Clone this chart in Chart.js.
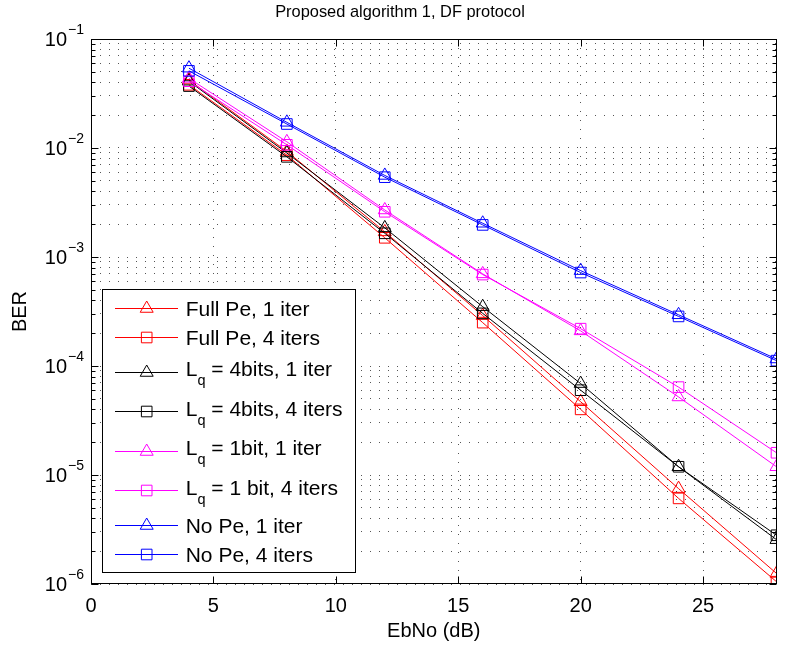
<!DOCTYPE html>
<html><head><meta charset="utf-8">
<script src="https://cdn.jsdelivr.net/npm/chart.js@4/dist/chart.umd.min.js"></script>
<style>html,body{margin:0;padding:0;background:#fff;}canvas{display:block;}</style>
</head><body>
<canvas id="c" width="785" height="646"></canvas>
<script>
const titleText = 'Proposed algorithm 1, DF protocol';
const xLabel = 'EbNo (dB)';
const yLabel = 'BER';
const ebno = [4, 8, 12, 16, 20, 24, 28];
const fullPe1 = [0.042, 0.0093, 0.0017, 2.9e-4, 4.7e-5, 7.5e-6, 1.25e-6];
const fullPe4 = [0.038, 0.0086, 0.0015, 2.5e-4, 4.0e-5, 6.1e-6, 1.05e-6];
const lq4bits1 = [0.041, 0.0090, 0.00185, 3.5e-4, 6.9e-5, 1.19e-5, 2.55e-6];
const lq4bits4 = [0.037, 0.0083, 0.00165, 3.04e-4, 6.0e-5, 1.19e-5, 2.8e-6];
const lq1bit1 = [0.0435, 0.0114, 0.0027, 7.0e-4, 2.1e-4, 5.2e-5, 1.19e-5];
const lq1bit4 = [0.041, 0.0107, 0.0026, 6.9e-4, 2.2e-4, 6.4e-5, 1.6e-5];
const noPe1 = [0.054, 0.0172, 0.0056, 2.04e-3, 7.5e-4, 2.95e-4, 1.16e-4];
const noPe4 = [0.051, 0.0166, 0.0054, 1.97e-3, 7.2e-4, 2.85e-4, 1.12e-4];
const seriesLabels = ['Full Pe, 1 iter', 'Full Pe, 4 iters', 'L_q = 4bits, 1 iter', 'L_q = 4bits, 4 iters',
  'L_q = 1bit, 1 iter', 'L_q = 1 bit, 4 iters', 'No Pe, 1 iter', 'No Pe, 4 iters'];
const seriesValues = [fullPe1, fullPe4, lq4bits1, lq4bits4, lq1bit1, lq1bit4, noPe1, noPe4];
const seriesColors = ['#ff0000', '#ff0000', '#000000', '#000000', '#ff00ff', '#ff00ff', '#0000ff', '#0000ff'];
const seriesMarkers = ['triangle', 'rect', 'triangle', 'rect', 'triangle', 'rect', 'triangle', 'rect'];
const xTicks = [0, 5, 10, 15, 20, 25];
const yDecades = [-6, -5, -4, -3, -2, -1];

const FONT = "'Liberation Sans', Arial, Helvetica, sans-serif";

const datasets = seriesLabels.map((lab, i) => ({
  label: lab,
  data: ebno.map((x, j) => ({x: x, y: seriesValues[i][j]})),
  borderColor: seriesColors[i],
  backgroundColor: 'rgba(0,0,0,0)',
  pointBackgroundColor: 'rgba(0,0,0,0)',
  pointBorderColor: seriesColors[i],
  pointStyle: seriesMarkers[i],
  pointRadius: 7.5,
  pointBorderWidth: 1,
  borderWidth: 1,
  tension: 0,
  fill: false,
  order: seriesLabels.length - i
}));

const decorPlugin = {
  id: 'decor',
  afterDatasetsDraw(chart) {
    const ctx = chart.ctx;
    const a = chart.chartArea;
    const xs = chart.scales.x, ys = chart.scales.y;
    const L = Math.round(a.left) + 0.5, R = Math.round(a.right) - 0.5;
    const T = Math.round(a.top) + 0.5, B = Math.round(a.bottom) - 0.5;
    ctx.save();
    ctx.strokeStyle = '#000';
    ctx.lineWidth = 1;
    ctx.strokeRect(L, T, R - L, B - T);
    ctx.beginPath();
    xTicks.forEach(v => {
      const px = Math.round(xs.getPixelForValue(v)) + 0.5;
      ctx.moveTo(px, B); ctx.lineTo(px, B - 7);
      ctx.moveTo(px, T); ctx.lineTo(px, T + 7);
    });
    yDecades.forEach(d => {
      for (let k = 1; k <= 9; k++) {
        const v = k * Math.pow(10, d);
        const py = Math.round(ys.getPixelForValue(v)) + 0.5;
        const len = k === 1 ? 7 : 4;
        ctx.moveTo(L, py); ctx.lineTo(L + len, py);
        ctx.moveTo(R, py); ctx.lineTo(R - len, py);
        if (d === -1) break;
      }
    });
    ctx.stroke();
    // title
    ctx.fillStyle = '#000';
    ctx.font = '16.4px ' + FONT;
    ctx.textAlign = 'center';
    ctx.textBaseline = 'middle';
    ctx.fillText(titleText, 400, 12.5);
    // y tick labels 10^d
    yDecades.forEach(d => {
      const py = ys.getPixelForValue(Math.pow(10, d));
      ctx.font = '20px ' + FONT;
      ctx.textAlign = 'right';
      ctx.textBaseline = 'middle';
      ctx.fillText('10', 67, py + 1.5);
      ctx.font = '14px ' + FONT;
      ctx.textAlign = 'left';
      ctx.fillText('\u2212' + Math.abs(d), 68, py - 9);
    });
    // legend
    const bx = 102.5, by = 289.5, bw = 253, bh = 283;
    ctx.fillStyle = '#fff';
    ctx.fillRect(bx, by, bw, bh);
    ctx.strokeStyle = '#000';
    ctx.strokeRect(bx, by, bw, bh);
    let prevH = null, cy = 307.7;
    seriesLabels.forEach((lab, i) => {
      const hasSub = lab.indexOf('_') >= 0;
      const h = hasSub ? 39.5 : 29.5;
      if (prevH !== null) cy += (prevH + h) / 2;
      prevH = h;
      const ly = Math.round(cy) + 0.5;
      ctx.strokeStyle = seriesColors[i];
      ctx.fillStyle = 'rgba(0,0,0,0)';
      ctx.lineWidth = 1;
      ctx.beginPath(); ctx.moveTo(115, ly); ctx.lineTo(178, ly); ctx.stroke();
      Chart.helpers.drawPoint(ctx, {pointStyle: seriesMarkers[i], radius: 7.5, borderWidth: 1, rotation: 0}, 146.7, ly);
      ctx.fillStyle = '#000';
      ctx.textAlign = 'left';
      ctx.textBaseline = 'alphabetic';
      const big = '21px ' + FONT, small = '14.5px ' + FONT;
      if (hasSub) {
        const parts = lab.split('_');
        const head = parts[0];
        const sub = parts[1].charAt(0);
        const rest = parts[1].slice(1);
        ctx.font = big;
        ctx.fillText(head, 185.7, cy + 4.5);
        const w1 = ctx.measureText(head).width;
        ctx.font = small;
        ctx.fillText(sub, 185.7 + w1, cy + 13.5);
        const w2 = ctx.measureText(sub).width;
        ctx.font = big;
        ctx.fillText(rest, 185.7 + w1 + w2, cy + 4.5);
      } else {
        ctx.font = big;
        ctx.fillText(lab, 185.7, cy + 8);
      }
    });
    ctx.restore();
  }
};

const yTickValues = [];
yDecades.forEach(d => {
  for (let k = 1; k <= 9; k++) {
    yTickValues.push(k * Math.pow(10, d));
    if (d === -1) break;
  }
});

new Chart(document.getElementById('c'), {
  type: 'line',
  data: {datasets: datasets},
  plugins: [decorPlugin],
  options: {
    responsive: false,
    animation: false,
    devicePixelRatio: 1,
    layout: {padding: {left: 0, right: 2, top: 39, bottom: 0}},
    plugins: {
      legend: {display: false},
      tooltip: {enabled: false},
      title: {display: false}
    },
    scales: {
      x: {
        type: 'linear', min: 0, max: 28,
        afterBuildTicks: s => { s.ticks = xTicks.map(v => ({value: v})); },
        afterFit: s => { s.height = 62; },
        grid: {color: '#555', lineWidth: 1, drawTicks: false},
        border: {display: false, dash: [1, 8]},
        ticks: {color: '#000', padding: 10, font: {family: FONT, size: 20}, maxRotation: 0},
        title: {display: true, text: xLabel, color: '#000', font: {family: FONT, size: 20}, padding: {top: 0, bottom: 3}}
      },
      y: {
        type: 'logarithmic', min: 1e-6, max: 1e-1,
        afterBuildTicks: s => { s.ticks = yTickValues.map(v => ({value: v})); },
        afterFit: s => { s.width = 91; },
        grid: {color: '#555', lineWidth: 1, drawTicks: false},
        border: {display: false, dash: [1, 8]},
        ticks: {display: false},
        title: {display: true, text: yLabel, color: '#000', font: {family: FONT, size: 20}, padding: {top: 8, bottom: 0}}
      }
    }
  }
});
</script>
</body></html>
